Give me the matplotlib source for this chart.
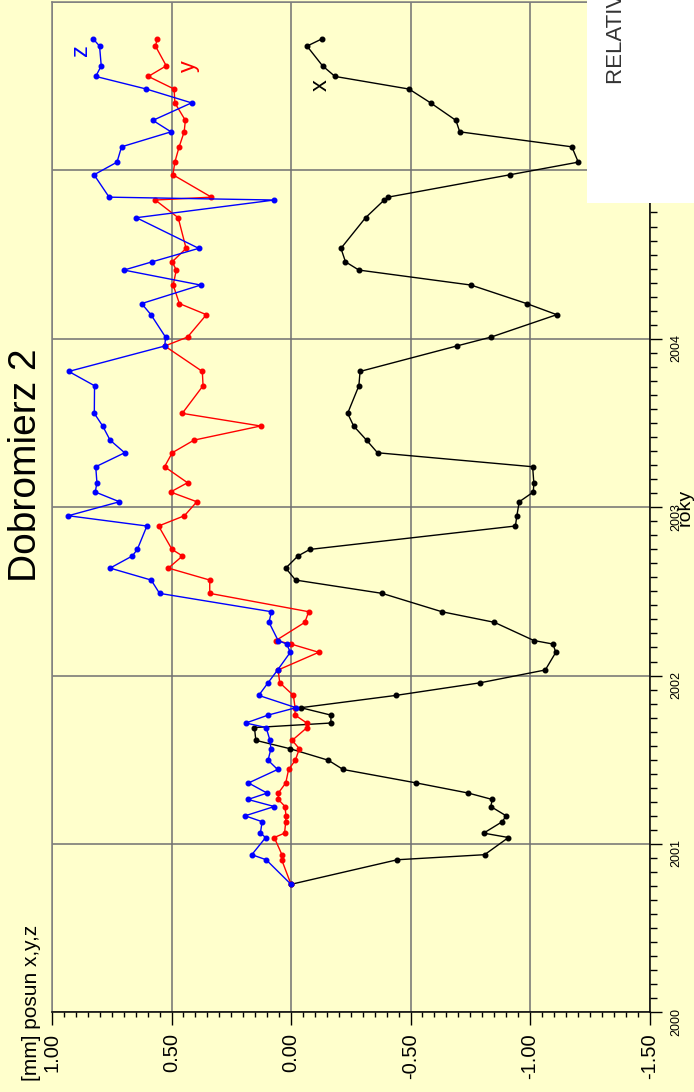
import matplotlib
matplotlib.use("Agg")
import matplotlib.pyplot as plt
from matplotlib.ticker import MultipleLocator, FixedLocator
from matplotlib.patches import Rectangle

plt.rcParams['font.family'] = ['Liberation Sans', 'DejaVu Sans']

# ---- data (decimal years, displacement in mm) ----
epochs = [2000.760, 2000.906, 2000.936, 2001.038, 2001.064, 2001.132, 2001.167, 2001.222,
          2001.264, 2001.302, 2001.362, 2001.442, 2001.497, 2001.565, 2001.615, 2001.691,
          2001.718, 2001.765, 2001.809, 2001.882, 2001.957, 2002.033, 2002.138, 2002.187,
          2002.208, 2002.316, 2002.379, 2002.488, 2002.567, 2002.638, 2002.710, 2002.749,
          2002.888, 2002.949, 2003.032, 2003.090, 2003.145, 2003.240, 2003.323, 2003.398,
          2003.482, 2003.557, 2003.721, 2003.806, 2003.957, 2004.010, 2004.143, 2004.209,
          2004.319, 2004.408, 2004.457, 2004.537, 2004.719, 2004.824, 2004.841, 2004.974,
          2005.049, 2005.140, 2005.229, 2005.297, 2005.401, 2005.483, 2005.558, 2005.621,
          2005.738, 2005.780]

x_vals = [0.00, -0.445, -0.81, -0.91, -0.806, -0.884, -0.90, -0.836,
          -0.842, -0.742, -0.525, -0.218, -0.156, 0.003, 0.147, 0.153,
          -0.167, -0.167, -0.041, -0.439, -0.792, -1.064, -1.108, -1.096,
          -1.016, -0.851, -0.631, -0.381, -0.019, 0.022, -0.029, -0.079,
          -0.939, -0.945, -0.955, -1.014, -1.016, -1.011, -0.362, -0.316,
          -0.262, -0.237, -0.284, -0.289, -0.693, -0.837, -1.112, -0.986,
          -0.753, -0.284, -0.228, -0.209, -0.312, -0.390, -0.406, -0.916,
          -1.202, -1.175, -0.706, -0.690, -0.584, -0.494, -0.184, -0.132,
          -0.067, -0.128]

y_vals = [0.00, 0.039, 0.038, 0.070, 0.027, 0.022, 0.021, 0.025,
          0.053, 0.053, 0.022, 0.010, -0.018, -0.035, -0.005, -0.067,
          -0.066, -0.017, -0.017, -0.010, 0.047, 0.054, -0.116, 0.000,
          0.063, -0.058, -0.074, 0.340, 0.340, 0.513, 0.454, 0.498,
          0.554, 0.446, 0.394, 0.504, 0.433, 0.529, 0.497, 0.406,
          0.127, 0.455, 0.368, 0.371, 0.528, 0.433, 0.354, 0.467,
          0.493, 0.480, 0.497, 0.439, 0.472, 0.568, 0.333, 0.494,
          0.486, 0.468, 0.447, 0.442, 0.486, 0.489, 0.597, 0.522,
          0.567, 0.560]

z_vals = [0.00, 0.104, 0.164, 0.106, 0.128, 0.121, 0.192, 0.070,
          0.180, 0.100, 0.178, 0.056, 0.096, 0.084, 0.088, 0.104,
          0.189, 0.096, -0.021, 0.135, 0.096, 0.056, 0.003, 0.018,
          0.054, 0.092, 0.082, 0.550, 0.585, 0.757, 0.664, 0.643,
          0.603, 0.932, 0.718, 0.819, 0.812, 0.817, 0.696, 0.757,
          0.788, 0.823, 0.822, 0.930, 0.528, 0.525, 0.586, 0.625,
          0.378, 0.699, 0.581, 0.386, 0.647, 0.070, 0.761, 0.824,
          0.728, 0.709, 0.502, 0.578, 0.416, 0.605, 0.817, 0.794,
          0.801, 0.827]

value_ticks = [1.00, 0.50, 0.00, -0.50, -1.00, -1.50]
year_ticks = [2000, 2001, 2002, 2003, 2004, 2005, 2006]

BG = '#FFFFCC'
W, H = 694, 1092
fig = plt.figure(figsize=(W / 100, H / 100), dpi=100, facecolor=BG)
ax = fig.add_axes([52 / W, (H - 1012.3) / H, (649.5 - 52) / W, (1012.3 - 2) / H])
ax.set_facecolor(BG)

series = [(x_vals, 'black'), (y_vals, '#FF0000'), (z_vals, '#0000FF')]
for vals, col in series:
    ax.plot(vals, epochs, color=col, lw=1.0, marker='o', ms=3.3, mec=col, mfc=col, zorder=3)

ax.set_xlim(1.0, -1.5)
ax.set_ylim(2000, 2006)

ax.xaxis.set_major_locator(FixedLocator(value_ticks))
ax.xaxis.set_minor_locator(MultipleLocator(0.05))
ax.set_xticklabels(['%.2f' % v for v in value_ticks])
ax.yaxis.set_major_locator(FixedLocator(year_ticks))
ax.yaxis.set_minor_locator(MultipleLocator(1 / 12))
ax.set_yticklabels([str(y) if y < 2006 else '' for y in year_ticks])
ax.yaxis.tick_right()

ax.tick_params(axis='x', which='major', direction='out', length=9.4, width=1.0,
               labelsize=14.5, labelrotation=90, pad=5.5, color='black')
ax.tick_params(axis='x', which='minor', direction='out', length=3.6, width=1.0, color='black')
ax.tick_params(axis='y', which='major', direction='out', length=8.8, width=1.0,
               labelsize=9, labelrotation=90, pad=6.5, color='black')
ax.tick_params(axis='y', which='minor', direction='out', length=4.8, width=1.0, color='black')

ax.grid(True, which='major', color='#707070', lw=1.1, zorder=1)
ax.set_axisbelow(True)
for side in ['left', 'top']:
    ax.spines[side].set_color('#808080')
    ax.spines[side].set_linewidth(1.1)
for side in ['bottom', 'right']:
    ax.spines[side].set_color('black')
    ax.spines[side].set_linewidth(1.1)

# series labels
ax.text(0.88, 2000 + (1012.3 - 50) / 168.4, 'z', color='#0000FF', fontsize=17,
        rotation=90, ha='center', va='center')
ax.text(0.425, 2000 + (1012.3 - 66) / 168.4, 'y', color='#FF0000', fontsize=17,
        rotation=90, ha='center', va='center')
ax.text(-0.125, 2000 + (1012.3 - 85) / 168.4, 'x', color='black', fontsize=17,
        rotation=90, ha='center', va='center')

# title and axis labels
fig.text(26 / W, (H - 465) / H, 'Dobromierz 2', rotation=90, fontsize=28,
         ha='center', va='center')
fig.text(32 / W, (H - 1081) / H, '[mm] posun x,y,z', rotation=90, fontsize=15,
         ha='center', va='bottom')
fig.text(685 / W, (H - 507) / H, 'roky', rotation=90, fontsize=14,
         ha='center', va='center')

# legend box (cut off at figure edge)
fig.patches.append(Rectangle((587 / W, (H - 203) / H), (W - 587) / W + 0.01, 203 / H + 0.01,
                             transform=fig.transFigure, facecolor='white',
                             edgecolor='none', zorder=5))
fig.text(617 / W, (H - 84) / H, 'RELATIVNÍ POSUN', rotation=90, fontsize=16,
         color='#333333', ha='center', va='bottom', zorder=6)

fig.savefig('out.png', dpi=100, facecolor=BG)
